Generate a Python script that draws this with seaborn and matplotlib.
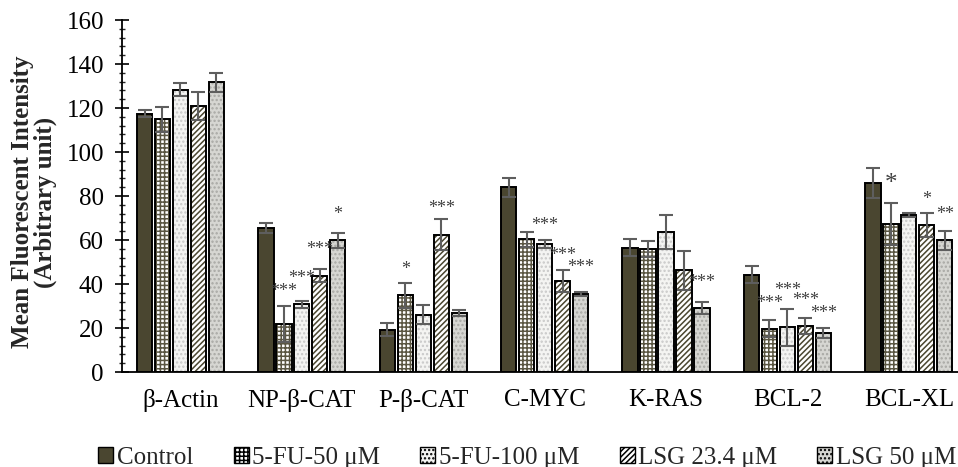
import matplotlib
matplotlib.use("Agg")
import matplotlib.pyplot as plt
import matplotlib.patches as mpatches
import numpy as np
import pandas as pd
import seaborn as sns
from matplotlib.ticker import MultipleLocator

genes = ["β-Actin", "NP-β-CAT", "P-β-CAT", "C-MYC", "K-RAS", "BCL-2", "BCL-XL"]
groups = ["Control", "5-FU-50 μM", "5-FU-100 μM", "LSG 23.4 μM", "LSG 50 μM"]

control = [117.5, 65.5, 19.2, 84.0, 56.5, 44.3, 86.0]
fu50 = [114.8, 21.8, 34.8, 60.3, 55.8, 19.7, 67.3]
fu100 = [128.3, 30.7, 26.0, 58.2, 63.7, 20.3, 71.3]
lsg234 = [121.0, 43.8, 62.5, 41.4, 46.2, 21.0, 66.8]
lsg50 = [131.8, 59.8, 27.0, 35.4, 29.0, 17.8, 59.8]

control_err = [1.8, 2.2, 3.0, 4.3, 3.9, 3.7, 6.7]
fu50_err = [5.8, 8.0, 5.5, 3.3, 3.6, 3.8, 9.5]
fu100_err = [3.0, 1.8, 4.4, 1.9, 7.6, 8.5, 1.0]
lsg234_err = [6.5, 3.0, 7.0, 5.0, 8.7, 3.6, 5.3]
lsg50_err = [4.3, 3.6, 1.4, 0.9, 2.7, 2.2, 4.4]

# significance marks: (gene index, group index, text, y)
stars = [
    (1, 1, "***", 36.4), (1, 2, "***", 42.7), (1, 3, "***", 55.5), (1, 4, "*", 71.8),
    (2, 1, "*", 46.8), (2, 3, "***", 74.5),
    (3, 2, "***", 66.5), (3, 3, "***", 53.0), (3, 4, "***", 47.4),
    (4, 4, "***", 40.6),
    (5, 1, "***", 31.2), (5, 2, "***", 37.0), (5, 3, "***", 32.7), (5, 4, "***", 26.5),
    (6, 1, "*", 85.3), (6, 3, "*", 78.5), (6, 4, "**", 71.5),
]

values = [control, fu50, fu100, lsg234, lsg50]
errors = [control_err, fu50_err, fu100_err, lsg234_err, lsg50_err]

df = pd.DataFrame({
    "gene": genes * len(groups),
    "group": np.repeat(groups, len(genes)),
    "value": np.concatenate(values),
})

face = ["#4a4630", "#ffffff", "#f4f4f2", "#ffffff", "#d6d6d2"]
hatch = [None, "++++", "....", "//////", "...."]
hatch_col = ["#4a4630", "#5a5642", "#c8c8c8", "#4a4630", "#a8a8a4"]

sns.set_theme(style="white")
plt.rcParams["font.family"] = ["Liberation Serif", "DejaVu Serif"]
plt.rcParams["hatch.linewidth"] = 1.1

fig = plt.figure(figsize=(9.58, 4.67), dpi=100)
ax = fig.add_axes([0.1273, 0.2034, 0.8727, 0.7537])

sns.barplot(data=df, x="gene", y="value", hue="group", palette=face,
            errorbar=None, width=0.74, gap=0.15, ax=ax, legend=False,
            saturation=1)
bar_sets = list(ax.containers)

for gi, cont in enumerate(bar_sets):
    for p in cont.patches:
        p.set_facecolor(face[gi])
        p.set_edgecolor(hatch_col[gi])
        p.set_linewidth(0)
        if hatch[gi]:
            p.set_hatch(hatch[gi])
        ax.add_patch(mpatches.Rectangle(p.get_xy(), p.get_width(), p.get_height(),
                                        fill=False, edgecolor="black", lw=1.4, zorder=3))
    xs = [p.get_x() + p.get_width() / 2 for p in cont.patches]
    ax.errorbar(xs, values[gi], yerr=errors[gi], fmt="none", ecolor="#5e5e5e",
                elinewidth=1.5, capsize=5, capthick=1.5, zorder=4)

for g, s, txt, y in stars:
    p = bar_sets[s].patches[g]
    big = (g == 6 and s == 1)
    ax.text(p.get_x() + p.get_width() / 2, y, txt, ha="center", va="center",
            fontsize=18 if big else 13, color="#404040")

ax.set_ylim(0, 160)
ax.set_xlim(-0.482, 6.405)
ax.yaxis.set_major_locator(MultipleLocator(20))
ax.yaxis.set_minor_locator(MultipleLocator(4))
ax.tick_params(axis="y", which="major", direction="inout", length=10, width=1.2,
               labelsize=18, left=True, colors="black", pad=8)
ax.tick_params(axis="y", which="minor", direction="inout", length=5, width=1.0, left=True)
ax.tick_params(axis="x", length=0, labelsize=18, pad=12)
for side in ["top", "right"]:
    ax.spines[side].set_visible(False)
for side in ["left", "bottom"]:
    ax.spines[side].set_color("black")
    ax.spines[side].set_linewidth(1.3)
ax.set_xlabel("")
ax.set_ylabel("Mean Fluorescent Intensity\n(Arbitrary unit)", fontsize=18,
              fontweight="bold", linespacing=0.95)
ax.yaxis.set_label_coords(-0.078, 0.483)
for lbl in ax.get_yticklabels() + ax.get_xticklabels():
    lbl.set_color("black")

handles = [mpatches.Patch(facecolor=face[i], edgecolor="black", hatch=hatch[i], lw=1.0)
           for i in range(len(groups))]
fig.legend(handles, groups, loc="center", bbox_to_anchor=(0.5506, 0.02), ncol=5,
           frameon=False, fontsize=18, handlelength=0.6, handleheight=0.6,
           handletextpad=0.15, columnspacing=1.6)

fig.savefig("out.png", dpi=100)
